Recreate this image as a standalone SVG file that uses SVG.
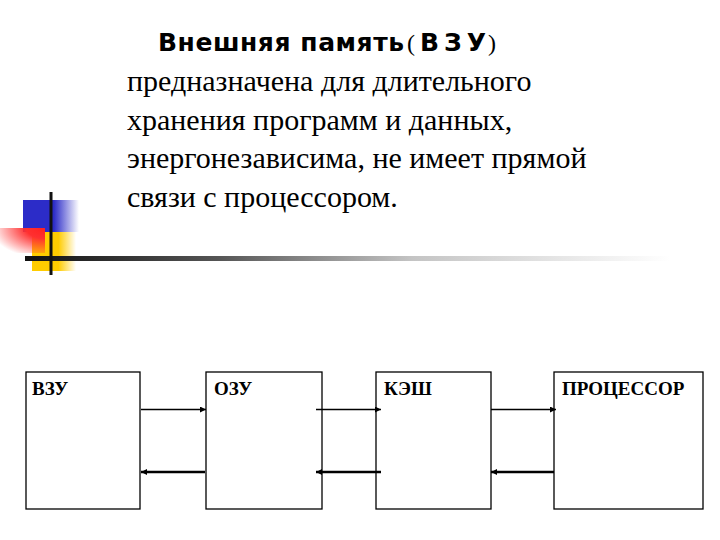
<svg xmlns="http://www.w3.org/2000/svg" width="720" height="540" viewBox="0 0 720 540">
<defs>
<style>
.ttl{font-family:"DejaVu Sans","Liberation Sans",sans-serif;font-weight:bold;font-size:25px;fill:#000}
.lbl{font-family:"Liberation Serif","Times New Roman",serif;font-weight:bold;font-size:19px;fill:#000}
.box{fill:#fff;stroke:#000;stroke-width:1.3}
.thin{stroke:#000;stroke-width:1.3;fill:none}
.thick{stroke:#000;stroke-width:2.6;fill:none}
</style>
<linearGradient id="gBlue" x1="0" y1="0" x2="1" y2="0">
<stop offset="0" stop-color="#2c2cc8"/><stop offset="0.55" stop-color="#2c2cc8"/><stop offset="1" stop-color="#2c2cc8" stop-opacity="0"/>
</linearGradient>
<linearGradient id="gYellow" x1="0" y1="0" x2="1" y2="0">
<stop offset="0" stop-color="#ffcc00"/><stop offset="0.6" stop-color="#ffcc00"/><stop offset="1" stop-color="#ffcc00" stop-opacity="0"/>
</linearGradient>
<radialGradient id="gRed" cx="1" cy="0" r="1.2">
<stop offset="0" stop-color="#ff2020"/><stop offset="0.35" stop-color="#ff3030"/><stop offset="1" stop-color="#ff3030" stop-opacity="0"/>
</radialGradient>
<linearGradient id="gLine" x1="0" y1="0" x2="1" y2="0">
<stop offset="0" stop-color="#111"/><stop offset="0.3" stop-color="#555"/><stop offset="0.6" stop-color="#c4c4c4"/><stop offset="1" stop-color="#fff"/>
</linearGradient>
<marker id="ah" viewBox="0 0 10 10" refX="10" refY="5" markerWidth="7" markerHeight="6" markerUnits="userSpaceOnUse" orient="auto">
<path d="M0,0 L10,5 L0,10 z" fill="#000"/>
</marker>
</defs>
<rect width="720" height="540" fill="#fff"/>

<g id="decoration">
<rect x="23" y="200" width="56" height="32" fill="url(#gBlue)"/>
<rect x="32" y="232" width="44" height="39" fill="url(#gYellow)"/>
<rect x="0" y="228" width="45" height="25" fill="url(#gRed)"/>
<rect x="25" y="256" width="645" height="5" fill="url(#gLine)"/>
<rect x="49.5" y="192" width="3" height="83" fill="#111"/>
</g>

<g id="heading">
<text class="ttl" x="158" y="51" textLength="246" lengthAdjust="spacing">Внешняя память</text>
<text x="407" y="51" font-family="Liberation Serif" font-size="24">(</text>
<text class="ttl" x="420" y="51" font-size="27" textLength="66" lengthAdjust="spacing">ВЗУ</text>
<text x="488" y="51" font-family="Liberation Serif" font-size="24">)</text>
</g>

<text x="127" y="91" font-family="Liberation Serif" font-size="30">предназначена для длительного</text>
<text x="127" y="130" font-family="Liberation Serif" font-size="30">хранения программ и данных,</text>
<text x="127" y="168" font-family="Liberation Serif" font-size="30">энергонезависима, не имеет прямой</text>
<text x="127" y="207" font-family="Liberation Serif" font-size="30">связи с процессором.</text>

<g id="node-vzu">
<rect class="box" x="26" y="372" width="114" height="137"/>
<text class="lbl" x="32" y="395">ВЗУ</text>
</g>
<g id="node-ozu">
<rect class="box" x="206" y="372" width="116" height="137"/>
<text class="lbl" x="214" y="395">ОЗУ</text>
</g>
<g id="node-cache">
<rect class="box" x="376" y="372" width="115" height="137"/>
<text class="lbl" x="384" y="395">КЭШ</text>
</g>
<g id="node-cpu">
<rect class="box" x="554" y="372" width="149" height="137"/>
<text class="lbl" x="562" y="395">ПРОЦЕССОР</text>
</g>

<g id="connectors">
<line class="thin" x1="141" y1="409.5" x2="206" y2="409.5" marker-end="url(#ah)"/>
<line class="thin" x1="316" y1="409.5" x2="381" y2="409.5" marker-end="url(#ah)"/>
<line class="thin" x1="491" y1="409.5" x2="556" y2="409.5" marker-end="url(#ah)"/>
<line class="thick" x1="205" y1="472" x2="141" y2="472" marker-end="url(#ah)"/>
<line class="thick" x1="381" y1="472" x2="316" y2="472" marker-end="url(#ah)"/>
<line class="thick" x1="554" y1="472" x2="491" y2="472" marker-end="url(#ah)"/>
</g>
</svg>
